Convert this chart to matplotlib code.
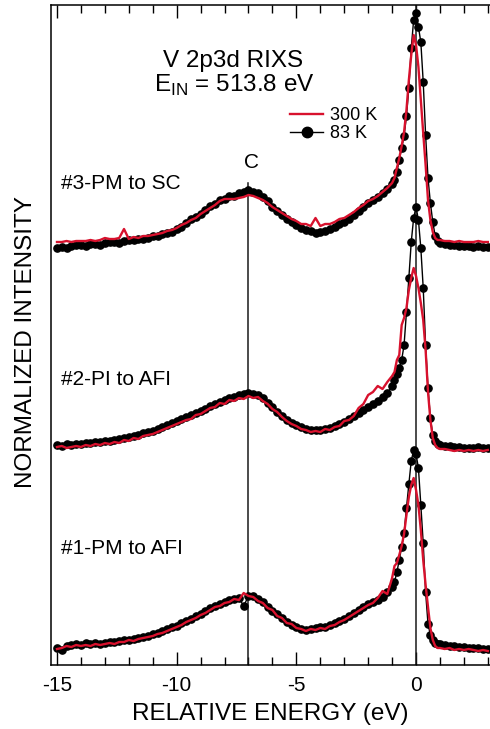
import numpy as np
import matplotlib
matplotlib.use("Agg")
import matplotlib.pyplot as plt

plt.rcParams['font.family'] = ['Liberation Sans', 'DejaVu Sans']
plt.rcParams['mathtext.fontset'] = 'custom'
plt.rcParams['mathtext.rm'] = 'Liberation Sans'
plt.rcParams['axes.unicode_minus'] = False

# energy grid (eV), finer sampling around the elastic line
energy = np.round(np.concatenate([np.arange(-15.0, -1.1, 0.2),
                                  np.arange(-1.0, 0.95, 0.1),
                                  np.arange(1.0, 3.05, 0.2)]), 2)

# vertical offsets of the three stacked spectra
offsets = [15, 217, 417]
labels = ['#1-PM to AFI', '#2-PI to AFI', '#3-PM to SC']

# #1-PM to AFI
s1_83K = [2, 0, 4, 5, 6, 5, 7, 6, 7, 6, 7, 8, 8, 9, 10, 10, 11, 12, 13, 14,
          16, 17, 19, 21, 23, 24, 27, 29, 31, 34, 36, 39, 42, 44, 46, 48, 50, 51, 52, 44,
          54, 54, 51, 48, 43, 39, 36, 32, 28, 25, 23, 21, 20, 21, 22, 23, 23, 25, 27, 29,
          31, 34, 37, 40, 43, 46, 48, 50, 53, 58,
          63, 68, 78, 90, 103, 117, 142, 166, 189, 200, 196, 182, 145, 107, 58, 26, 15, 10, 7, 6,
          6, 5, 4, 4, 3, 3, 2, 2, 2, 1, 1]
s1_300K = [1, 2, 4, 3, 5, 4, 5, 4, 6, 5, 6, 7, 6, 8, 8, 10, 9, 11, 12, 13,
           14, 16, 17, 19, 21, 23, 25, 28, 30, 32, 35, 37, 40, 43, 44, 47, 48, 51, 50, 57,
           54, 53, 49, 47, 42, 40, 34, 32, 27, 26, 22, 21, 19, 21, 20, 22, 21, 24, 25, 28,
           30, 33, 36, 39, 42, 45, 47, 52, 59, 56,
           72, 84, 87, 95, 104, 116, 135, 153, 165, 172, 160, 145, 120, 90, 65, 43, 22, 10, 4, 2,
           2, 1, 2, 0, 1, 0, 1, 0, -1, 0, -1]

# #2-PI to AFI
s2_83K = [3, 2, 4, 3, 4, 4, 5, 5, 6, 6, 7, 7, 8, 9, 10, 11, 12, 13, 15, 16,
          17, 19, 21, 23, 25, 27, 29, 31, 33, 35, 37, 39, 42, 44, 46, 48, 50, 51, 53, 54,
          55, 54, 53, 50, 45, 41, 36, 32, 28, 25, 23, 21, 19, 18, 18, 18, 19, 20, 22, 24,
          26, 29, 32, 35, 38, 41, 44, 47, 51, 55,
          62, 68, 74, 80, 88, 103, 136, 170, 206, 230, 241, 228, 200, 160, 103, 60, 30, 13, 7, 4,
          3, 2, 2, 1, 1, 0, 0, 0, 1, 0, 0]
s2_300K = [1, 2, 0, 1, 2, 1, 3, 2, 4, 3, 5, 4, 6, 5, 8, 7, 10, 9, 12, 13,
           14, 16, 18, 20, 22, 24, 26, 28, 29, 33, 34, 37, 40, 41, 45, 44, 48, 47, 50, 49,
           52, 50, 51, 47, 44, 39, 36, 31, 27, 24, 22, 19, 18, 16, 17, 16, 19, 18, 21, 22,
           27, 28, 32, 40, 44, 53, 56, 62, 59, 66,
           72, 76, 88, 93, 123, 130, 140, 158, 170, 180, 172, 160, 145, 128, 98, 56, 28, 10, 3, 0,
           -1, -1, -2, -3, -2, -3, -2, -3, -2, -3, -2]

# #3-PM to SC
s3_83K = [0, 1, 0, 2, 3, 3, 2, 4, 4, 3, 5, 6, 6, 5, 7, 8, 8, 9, 9, 10,
          12, 12, 14, 15, 16, 19, 21, 25, 29, 31, 34, 38, 42, 44, 48, 49, 52, 52, 55, 56,
          58, 56, 55, 51, 47, 41, 37, 33, 29, 26, 23, 20, 18, 17, 15, 16, 17, 19, 21, 24,
          26, 29, 33, 37, 41, 45, 48, 51, 55, 59,
          64, 68, 76, 88, 100, 112, 132, 160, 200, 228, 235, 221, 206, 166, 113, 70, 45, 26, 12, 7,
          5, 4, 3, 3, 2, 2, 2, 1, 2, 1, 1]
s3_300K = [6, 6, 7, 6, 7, 7, 7, 8, 7, 8, 10, 9, 9, 10, 19, 9, 11, 10, 12, 12,
           13, 14, 15, 17, 18, 20, 23, 25, 28, 30, 34, 37, 40, 43, 47, 49, 49, 49, 50, 51,
           53, 52, 50, 48, 45, 41, 38, 35, 32, 29, 27, 24, 24, 22, 30, 22, 24, 24, 26, 29,
           30, 33, 36, 40, 43, 47, 49, 52, 56, 60,
           65, 70, 80, 90, 102, 116, 138, 168, 193, 213, 203, 181, 148, 115, 83, 48, 28, 16, 10, 8,
           8, 7, 7, 6, 7, 6, 6, 6, 7, 6, 6]

spectra_83K = [s1_83K, s2_83K, s3_83K]
spectra_300K = [s1_300K, s2_300K, s3_300K]

c_energy = -7.0
red = '#d8112d'

fig = plt.figure(figsize=(4.9, 7.29), dpi=100)
ax = fig.add_axes([51 / 490, 64 / 729, 439 / 490, 660 / 729])

for off, y83, y300 in zip(offsets, spectra_83K, spectra_300K):
    ax.plot(energy, np.array(y83) + off, 'o-', color='black', lw=1.0,
            ms=5.2, zorder=3)
    ax.plot(energy, np.array(y300) + off, '-', color=red, lw=1.7, zorder=4)

# reference lines: elastic peak and feature C
ax.axvline(0, color='#1a1a1a', lw=1.1, zorder=2)
ax.axvline(c_energy, ymax=0.73, color='#1a1a1a', lw=1.1, zorder=2)
ax.text(c_energy + 0.12, 0.761, 'C', transform=ax.get_xaxis_transform(),
        ha='center', va='center', fontsize=15)

label_y = [0.176, 0.433, 0.730]
for lab, yy in zip(labels, label_y):
    ax.text(0.022, yy, lab, transform=ax.transAxes, ha='left', va='center',
            fontsize=15)

ax.text(0.414, 0.915, 'V 2p3d RIXS', transform=ax.transAxes, ha='center',
        va='center', fontsize=17.5)
ax.text(0.418, 0.878, r'E$_{\mathrm{IN}}$ = 513.8 eV', transform=ax.transAxes,
        ha='center', va='center', fontsize=17.5)

h300, = ax.plot([], [], '-', color=red, lw=1.7)
h83, = ax.plot([], [], 'o-', color='black', lw=1.0, ms=7.5)
ax.legend([h300, h83], ['300 K', '83 K'], loc='upper left',
          bbox_to_anchor=(0.544, 0.845), frameon=False, fontsize=13,
          borderpad=0, borderaxespad=0, labelspacing=0.05,
          handlelength=1.85, handletextpad=0.4)

ax.set_xlim(-15.25, 3.09)
ax.set_ylim(0, 660)
ax.set_xticks([-15, -10, -5, 0])
ax.set_xticks(np.arange(-15, 4, 1), minor=True)
ax.set_yticks([])
ax.tick_params(axis='x', which='both', direction='in', top=True, bottom=True,
               width=1.0, labelsize=15, pad=8)
ax.tick_params(axis='x', which='major', length=9.5)
ax.tick_params(axis='x', which='minor', length=5.5)
for side in ['left', 'top', 'bottom']:
    ax.spines[side].set_linewidth(1.1)
ax.spines['right'].set_visible(False)

ax.set_xlabel('RELATIVE ENERGY (eV)', fontsize=17.5, labelpad=6)
ax.set_ylabel('NORMALIZED INTENSITY', fontsize=17.5)
ax.yaxis.set_label_coords(-0.033, 0.49)

fig.savefig('out.png', dpi=100)
